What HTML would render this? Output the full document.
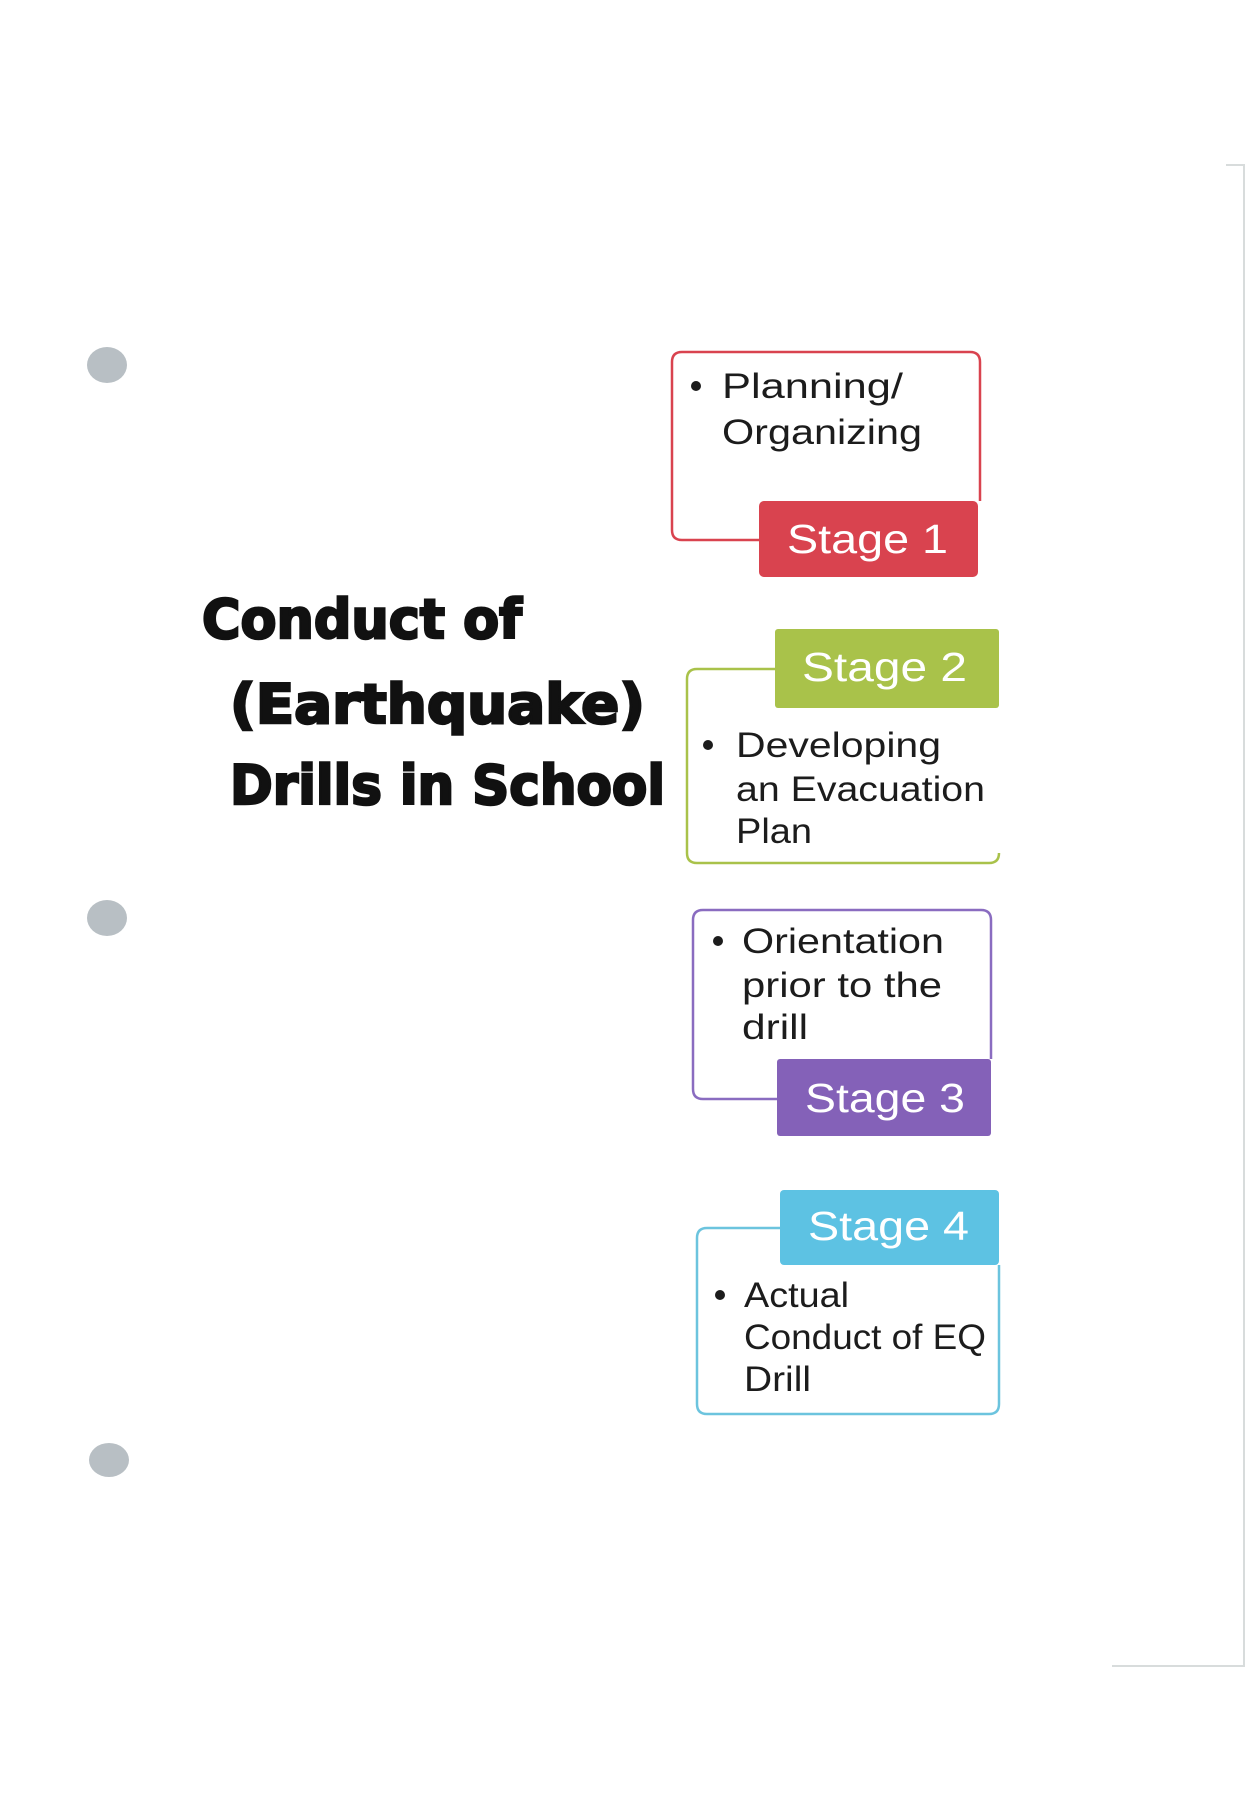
<!DOCTYPE html>
<html><head><meta charset="utf-8"><style>
html,body{margin:0;padding:0;background:#fff;}
svg{display:block;}
.b{font-family:"Liberation Sans",sans-serif;font-size:35px;fill:#1c1c1c;}
.s{font-family:"Liberation Sans",sans-serif;font-size:41px;fill:#fff;}
.t{font-family:"DejaVu Sans","Liberation Sans",sans-serif;font-weight:bold;font-size:54px;fill:#111;stroke:#111;stroke-width:2.5;}
</style></head><body>
<svg width="1246" height="1800" viewBox="0 0 1246 1800">
<path d="M1226,165 H1244 V1666 H1112" fill="none" stroke="#d8dcdc" stroke-width="2"/>
<ellipse cx="107" cy="365" rx="20" ry="18" fill="#b8bfc4"/>
<ellipse cx="107" cy="918" rx="20" ry="18" fill="#b8bfc4"/>
<ellipse cx="109" cy="1460" rx="20" ry="17" fill="#b8bfc4"/>

<g>
<text class="t" x="202" y="638" textLength="320" lengthAdjust="spacingAndGlyphs">Conduct of</text>
<text class="t" x="230" y="723" textLength="415" lengthAdjust="spacingAndGlyphs">(Earthquake)</text>
<text class="t" x="230" y="804" textLength="435" lengthAdjust="spacingAndGlyphs">Drills in School</text>
</g>

<g>
<path d="M759,540 H682 Q672,540 672,530 V362 Q672,352 682,352 H970 Q980,352 980,362 V501" fill="none" stroke="#d9434f" stroke-width="2.5"/>
<rect x="759" y="501" width="219" height="76" rx="5" fill="#d9434f"/>
<text class="s" x="787" y="553" textLength="161" lengthAdjust="spacingAndGlyphs">Stage 1</text>
<circle cx="696" cy="386" r="5" fill="#1c1c1c"/>
<text class="b" x="722" y="398" textLength="181" lengthAdjust="spacingAndGlyphs">Planning/</text>
<text class="b" x="722" y="444" textLength="200" lengthAdjust="spacingAndGlyphs">Organizing</text>
</g>

<g>
<path d="M775,669 H697 Q687,669 687,679 V853 Q687,863 697,863 H989 Q999,863 999,853" fill="none" stroke="#a9c24a" stroke-width="2.5"/>
<rect x="775" y="629" width="224" height="79" rx="3" fill="#a9c24a"/>
<text class="s" x="802" y="681" textLength="165" lengthAdjust="spacingAndGlyphs">Stage 2</text>
<circle cx="708" cy="745" r="5" fill="#1c1c1c"/>
<text class="b" x="736" y="757" textLength="205" lengthAdjust="spacingAndGlyphs">Developing</text>
<text class="b" x="736" y="801" textLength="249" lengthAdjust="spacingAndGlyphs">an Evacuation</text>
<text class="b" x="736" y="843" textLength="76" lengthAdjust="spacingAndGlyphs">Plan</text>
</g>

<g>
<path d="M777,1099 H703 Q693,1099 693,1089 V920 Q693,910 703,910 H981 Q991,910 991,920 V1059" fill="none" stroke="#8a6cc0" stroke-width="2.5"/>
<rect x="777" y="1059" width="214" height="77" rx="3" fill="#8461b8"/>
<text class="s" x="805" y="1112" textLength="160" lengthAdjust="spacingAndGlyphs">Stage 3</text>
<circle cx="718" cy="941" r="5" fill="#1c1c1c"/>
<text class="b" x="742" y="953" textLength="202" lengthAdjust="spacingAndGlyphs">Orientation</text>
<text class="b" x="742" y="997" textLength="200" lengthAdjust="spacingAndGlyphs">prior to the</text>
<text class="b" x="742" y="1039" textLength="66" lengthAdjust="spacingAndGlyphs">drill</text>
</g>

<g>
<path d="M780,1228 H707 Q697,1228 697,1238 V1404 Q697,1414 707,1414 H989 Q999,1414 999,1404 V1265" fill="none" stroke="#6cc4de" stroke-width="2.5"/>
<rect x="780" y="1190" width="219" height="75" rx="4" fill="#5dc2e3"/>
<text class="s" x="808" y="1240" textLength="161" lengthAdjust="spacingAndGlyphs">Stage 4</text>
<circle cx="720" cy="1295" r="5" fill="#1c1c1c"/>
<text class="b" x="744" y="1307" textLength="105" lengthAdjust="spacingAndGlyphs">Actual</text>
<text class="b" x="744" y="1349" textLength="242" lengthAdjust="spacingAndGlyphs">Conduct of EQ</text>
<text class="b" x="744" y="1391" textLength="67" lengthAdjust="spacingAndGlyphs">Drill</text>
</g>
</svg>
</body></html>
